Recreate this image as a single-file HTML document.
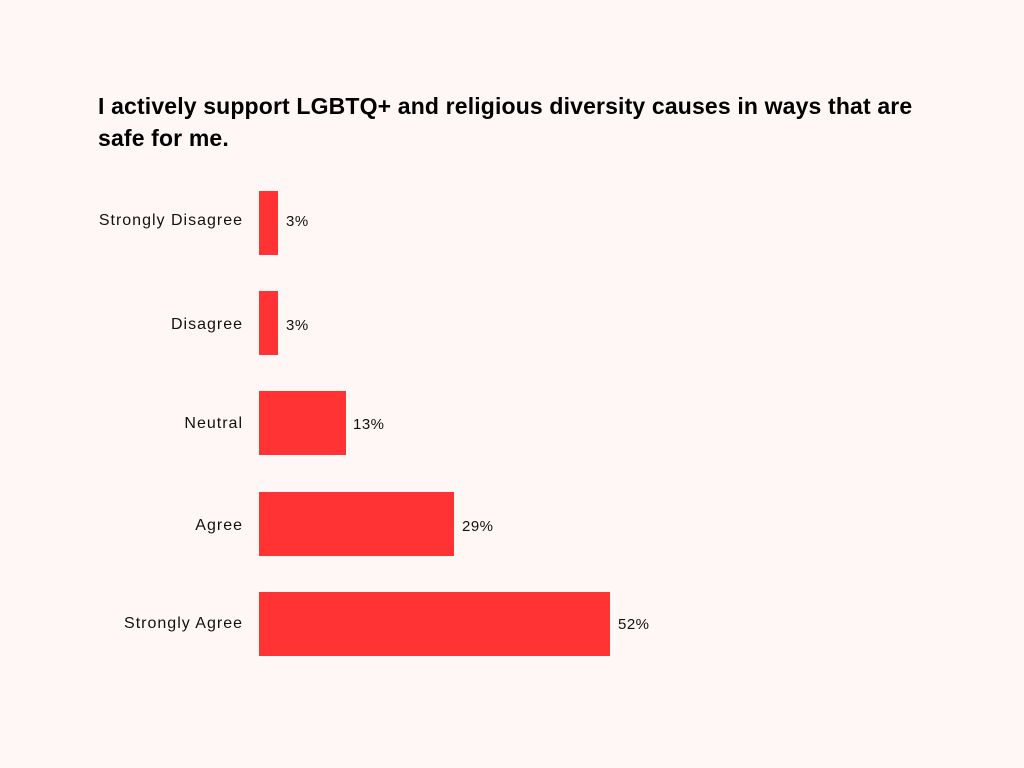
<!DOCTYPE html>
<html><head><style>
body{margin:0;background:#fff7f6;}
.wrap{position:relative;width:1024px;height:768px;font-family:"Liberation Sans",sans-serif;}
.t{position:absolute;left:98px;top:90px;font-size:23px;font-weight:bold;line-height:32px;color:#000;width:835px;letter-spacing:0.15px;}
.l{position:absolute;right:781px;font-size:16px;color:#111;letter-spacing:1px;}
.b{position:absolute;left:259px;background:#ff3333;height:64px;}
.v{position:absolute;font-size:15px;color:#111;letter-spacing:0.5px;}
</style></head><body><div class="wrap">
<div class="t">I actively support LGBTQ+ and religious diversity causes in ways that are safe for me.</div>
<div class="l" style="top:212px">Strongly Disagree</div><div class="b" style="top:191px;width:19px"></div><div class="v" style="left:286px;top:213px">3%</div>
<div class="l" style="top:316px">Disagree</div><div class="b" style="top:291px;width:19px"></div><div class="v" style="left:286px;top:317px">3%</div>
<div class="l" style="top:415px">Neutral</div><div class="b" style="top:391px;width:87px"></div><div class="v" style="left:353px;top:416px">13%</div>
<div class="l" style="top:517px">Agree</div><div class="b" style="top:492px;width:195px"></div><div class="v" style="left:462px;top:518px">29%</div>
<div class="l" style="top:615px">Strongly Agree</div><div class="b" style="top:592px;width:351px"></div><div class="v" style="left:618px;top:616px">52%</div>
</div></body></html>
